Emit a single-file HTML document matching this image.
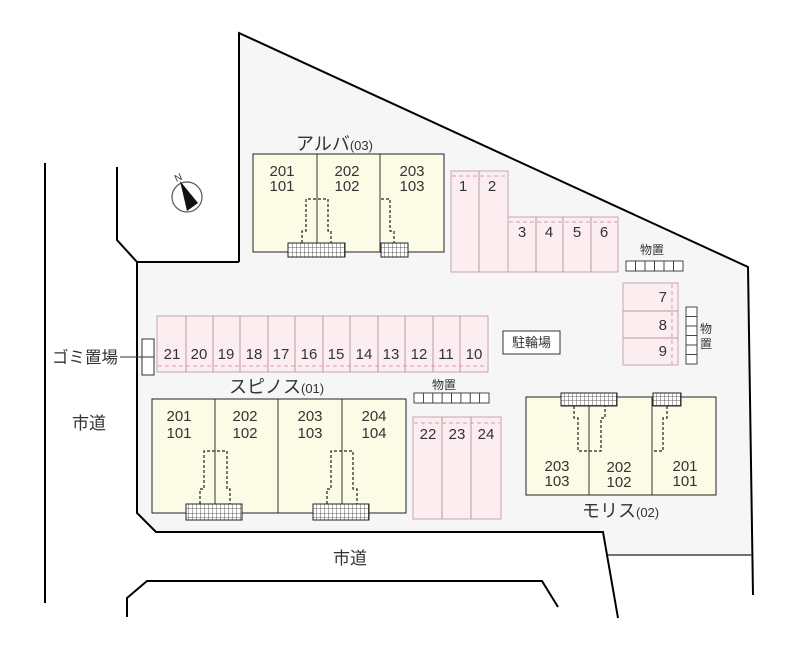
<!DOCTYPE html>
<html><head><meta charset="utf-8"><style>
html,body{margin:0;padding:0;background:#fff;}
svg{display:block;}
text{font-family:"Liberation Sans","Noto Sans CJK JP",sans-serif;fill:#333;}
</style></head><body>
<svg width="800" height="665" viewBox="0 0 800 665" xmlns="http://www.w3.org/2000/svg">
<defs>
<pattern id="gr" width="4" height="4.5" patternUnits="userSpaceOnUse">
<rect width="4" height="4.5" fill="#fff"/>
<path d="M0 0V4.5M0 0H4" stroke="#333" stroke-width="0.8" fill="none"/>
</pattern>
</defs>
<!-- lot -->
<polygon points="239,33 748,267 752,555 608,555 603,532 156,532 137,513 137,262 239,262" fill="#f6f6f6"/>
<polyline points="239,262 239,33 748,267 753,595" fill="none" stroke="#000" stroke-width="2"/>
<polyline points="137,262 137,513 156,532 603,532 618,618" fill="none" stroke="#000" stroke-width="2"/>
<line x1="608" y1="555" x2="752" y2="555" stroke="#444" stroke-width="1.5"/>
<line x1="137" y1="262" x2="239" y2="262" stroke="#000" stroke-width="2"/>
<!-- left road -->
<line x1="45" y1="163" x2="45" y2="603" stroke="#000" stroke-width="2"/>
<polyline points="117,167 117,240 137,262" fill="none" stroke="#000" stroke-width="2"/>
<!-- bottom road -->
<polyline points="127,617 127,598 147,581 542,581 558,607" fill="none" stroke="#000" stroke-width="2"/>
<text x="89" y="429" font-size="17" text-anchor="middle">市道</text>
<text x="350" y="564" font-size="17" text-anchor="middle">市道</text>

<!-- compass -->
<circle cx="187" cy="197" r="15" fill="none" stroke="#555" stroke-width="1.2"/>
<polygon points="180,181 187,211 198,203" fill="#111"/>
<text x="178" y="181" font-size="10" text-anchor="middle" transform="rotate(-25 178 177)">N</text>

<!-- アルバ -->
<rect x="253" y="154" width="191" height="98" fill="#fcfce6" stroke="#222" stroke-width="1"/>
<line x1="317" y1="154" x2="317" y2="252" stroke="#333"/>
<line x1="380" y1="154" x2="380" y2="252" stroke="#333"/>
<g font-size="15" text-anchor="middle">
<text x="282" y="176">201</text><text x="282" y="191">101</text>
<text x="347" y="176">202</text><text x="347" y="191">102</text>
<text x="412" y="176">203</text><text x="412" y="191">103</text>
</g>
<text x="296" y="150" font-size="18">アルバ<tspan font-size="13">(03)</tspan></text>
<g fill="none" stroke="#222" stroke-width="1.2" stroke-dasharray="3,2">
<polyline points="302,243 302,231 306,231 306,199 328,199 328,231 331,231 331,243"/>
<polyline points="381,199 390,199 390,231 394,231 394,243"/>
</g>
<rect x="288" y="243" width="57" height="14" fill="url(#gr)" stroke="#222"/>
<rect x="381" y="243" width="27" height="14" fill="url(#gr)" stroke="#222"/>

<!-- parking 1-6 -->
<g fill="#fcedf1" stroke="#c7a5ae" stroke-width="1">
<rect x="451" y="171" width="57" height="101"/>
<rect x="508" y="217" width="110" height="55"/>
</g>
<g stroke="#b89aa2" stroke-width="1">
<line x1="479" y1="171" x2="479" y2="272"/>
<line x1="536" y1="217" x2="536" y2="272"/>
<line x1="563" y1="217" x2="563" y2="272"/>
<line x1="591" y1="217" x2="591" y2="272"/>
</g>
<g stroke="#d99aaa" stroke-dasharray="4,3">
<line x1="452" y1="176" x2="507" y2="176"/>
<line x1="509" y1="222" x2="617" y2="222"/>
</g>
<g font-size="15" text-anchor="middle">
<text x="463" y="191">1</text><text x="492" y="191">2</text>
<text x="522" y="237">3</text><text x="549" y="237">4</text><text x="577" y="237">5</text><text x="604" y="237">6</text>
</g>
<!-- 物置 top right -->
<text x="652" y="254" font-size="12" text-anchor="middle">物置</text>
<rect x="626" y="261" width="57" height="10" fill="#fff" stroke="#333" stroke-width="0.9"/>
<g stroke="#333" stroke-width="0.9">
<line x1="635.5" y1="261" x2="635.5" y2="271"/><line x1="645" y1="261" x2="645" y2="271"/><line x1="654.5" y1="261" x2="654.5" y2="271"/><line x1="664" y1="261" x2="664" y2="271"/><line x1="673.5" y1="261" x2="673.5" y2="271"/>
</g>
<!-- 7-9 -->
<rect x="623" y="283" width="55" height="82" fill="#fcedf1" stroke="#c7a5ae"/>
<g stroke="#b89aa2"><line x1="623" y1="311" x2="678" y2="311"/><line x1="623" y1="338" x2="678" y2="338"/></g>
<line x1="672" y1="284" x2="672" y2="364" stroke="#d99aaa" stroke-dasharray="4,3"/>
<g font-size="15" text-anchor="end">
<text x="667" y="302">7</text><text x="667" y="330">8</text><text x="667" y="356">9</text>
</g>
<!-- 物置 vertical -->
<rect x="686" y="307" width="11" height="57" fill="#fff" stroke="#333" stroke-width="0.9"/>
<g stroke="#333" stroke-width="0.9">
<line x1="686" y1="316.5" x2="697" y2="316.5"/><line x1="686" y1="326" x2="697" y2="326"/><line x1="686" y1="335.5" x2="697" y2="335.5"/><line x1="686" y1="345" x2="697" y2="345"/><line x1="686" y1="354.5" x2="697" y2="354.5"/>
</g>
<text x="706" y="333" font-size="12" text-anchor="middle">物</text>
<text x="706" y="348" font-size="12" text-anchor="middle">置</text>
<!-- 駐輪場 -->
<rect x="503" y="331" width="57" height="23" fill="#fff" stroke="#333"/>
<text x="531.5" y="347" font-size="13" text-anchor="middle">駐輪場</text>

<!-- parking 21-10 -->
<rect x="157" y="316" width="331" height="56" fill="#fcedf1" stroke="#c7a5ae"/>
<g stroke="#b89aa2">
<line x1="186" y1="316" x2="186" y2="372"/><line x1="213" y1="316" x2="213" y2="372"/><line x1="240" y1="316" x2="240" y2="372"/><line x1="268" y1="316" x2="268" y2="372"/><line x1="295" y1="316" x2="295" y2="372"/><line x1="323" y1="316" x2="323" y2="372"/><line x1="350" y1="316" x2="350" y2="372"/><line x1="378" y1="316" x2="378" y2="372"/><line x1="405" y1="316" x2="405" y2="372"/><line x1="433" y1="316" x2="433" y2="372"/><line x1="460" y1="316" x2="460" y2="372"/>
</g>
<line x1="158" y1="366" x2="487" y2="366" stroke="#d99aaa" stroke-dasharray="4,3"/>
<g font-size="15" text-anchor="middle">
<text x="172" y="359">21</text><text x="199" y="359">20</text><text x="226" y="359">19</text><text x="254" y="359">18</text><text x="281" y="359">17</text><text x="309" y="359">16</text><text x="336" y="359">15</text><text x="364" y="359">14</text><text x="391" y="359">13</text><text x="419" y="359">12</text><text x="446" y="359">11</text><text x="474" y="359">10</text>
</g>
<!-- ゴミ置場 -->
<text x="52" y="363" font-size="16.5">ゴミ置場</text>
<line x1="120" y1="357" x2="143" y2="357" stroke="#333"/>
<rect x="142" y="339" width="12" height="36" fill="#fff" stroke="#333"/>
<line x1="142" y1="357" x2="154" y2="357" stroke="#333"/>

<!-- スピノス -->
<text x="229" y="393" font-size="18">スピノス<tspan font-size="13">(01)</tspan></text>
<rect x="152" y="399" width="254" height="114" fill="#fcfce6" stroke="#222"/>
<g stroke="#333">
<line x1="215" y1="399" x2="215" y2="513"/><line x1="278" y1="399" x2="278" y2="513"/><line x1="342" y1="399" x2="342" y2="513"/>
</g>
<g font-size="15" text-anchor="middle">
<text x="179" y="421">201</text><text x="179" y="438">101</text>
<text x="245" y="421">202</text><text x="245" y="438">102</text>
<text x="310" y="421">203</text><text x="310" y="438">103</text>
<text x="374" y="421">204</text><text x="374" y="438">104</text>
</g>
<g fill="none" stroke="#222" stroke-width="1.2" stroke-dasharray="3,2">
<polyline points="200,504 200,489 204,489 204,451 227,451 227,489 230,489 230,504"/>
<polyline points="327,504 327,489 331,489 331,451 353,451 353,489 357,489 357,504"/>
</g>
<rect x="186" y="504" width="56" height="16" fill="url(#gr)" stroke="#222"/>
<rect x="313" y="504" width="56" height="16" fill="url(#gr)" stroke="#222"/>

<!-- 物置 middle -->
<text x="444" y="389" font-size="12" text-anchor="middle">物置</text>
<rect x="414" y="393" width="75" height="10" fill="#fff" stroke="#333" stroke-width="0.9"/>
<g stroke="#333" stroke-width="0.9">
<line x1="423.4" y1="393" x2="423.4" y2="403"/><line x1="432.8" y1="393" x2="432.8" y2="403"/><line x1="442.1" y1="393" x2="442.1" y2="403"/><line x1="451.5" y1="393" x2="451.5" y2="403"/><line x1="460.9" y1="393" x2="460.9" y2="403"/><line x1="470.2" y1="393" x2="470.2" y2="403"/><line x1="479.6" y1="393" x2="479.6" y2="403"/>
</g>
<!-- 22-24 -->
<rect x="413" y="417" width="88" height="102" fill="#fcedf1" stroke="#c7a5ae"/>
<g stroke="#b89aa2"><line x1="442" y1="417" x2="442" y2="519"/><line x1="471" y1="417" x2="471" y2="519"/></g>
<line x1="414" y1="423" x2="500" y2="423" stroke="#d99aaa" stroke-dasharray="4,3"/>
<g font-size="15" text-anchor="middle">
<text x="428" y="439">22</text><text x="457" y="439">23</text><text x="486" y="439">24</text>
</g>

<!-- モリス -->
<rect x="526" y="397" width="190" height="98" fill="#fcfce6" stroke="#222"/>
<g stroke="#333"><line x1="589" y1="397" x2="589" y2="495"/><line x1="652" y1="397" x2="652" y2="495"/></g>
<g fill="none" stroke="#222" stroke-width="1.2" stroke-dasharray="3,2">
<polyline points="574,406 574,418 578,418 578,451 601,451 601,418 605,418 605,406"/>
<polyline points="667,406 667,418 663,418 663,451 652,451"/>
</g>
<rect x="561" y="393" width="56" height="13" fill="url(#gr)" stroke="#222"/>
<rect x="653" y="393" width="28" height="13" fill="url(#gr)" stroke="#222"/>
<g font-size="15" text-anchor="middle">
<text x="557" y="471">203</text><text x="557" y="486">103</text>
<text x="619" y="472">202</text><text x="619" y="487">102</text>
<text x="685" y="471">201</text><text x="685" y="486">101</text>
</g>
<text x="582" y="517" font-size="18">モリス<tspan font-size="13">(02)</tspan></text>
</svg>
</body></html>
